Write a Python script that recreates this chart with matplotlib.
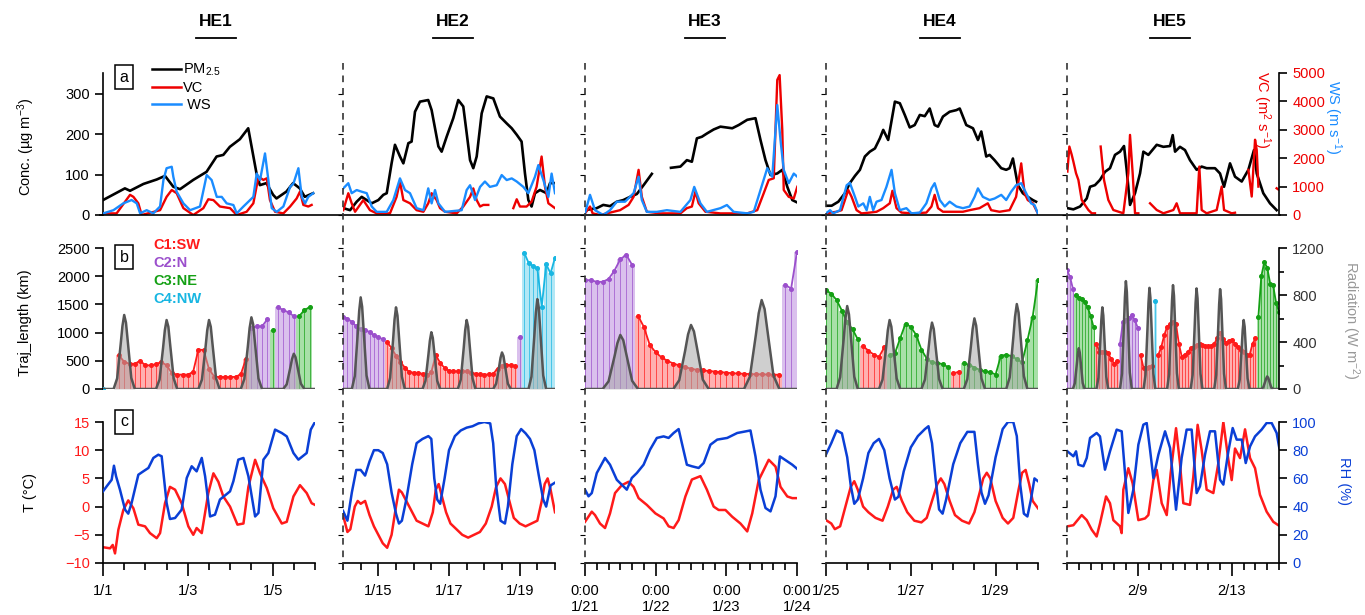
import numpy as np
import matplotlib
matplotlib.use("Agg")
import matplotlib.pyplot as plt
from matplotlib.lines import Line2D
from matplotlib.ticker import MultipleLocator

plt.rcParams["font.family"] = ["Liberation Sans", "DejaVu Sans"]
plt.rcParams["mathtext.fontset"] = "custom"
plt.rcParams["mathtext.rm"] = "Liberation Sans"
plt.rcParams["mathtext.it"] = "Liberation Sans:italic"

N = np.nan

# ---------------- data: (hour since panel start, value) ----------------
EPISODES = ["HE1", "HE2", "HE3", "HE4", "HE5"]
SPAN_H = [120, 144, 72, 120, 216]

# row a: PM2.5 (ug m-3), VC (m2 s-1), WS (m s-1)
HE1_PM = [(0, 37), (12.4, 66), (15.3, 60), (22.9, 77), (30.4, 88), (35.1, 97), (39.8, 70), (43.6, 64),
          (51.1, 87), (58.6, 107), (64.3, 145), (68.1, 149), (71.8, 169), (77.5, 188), (82.2, 215),
          (86.9, 103), (88.8, 74), (92.5, 79), (96.3, 50), (98.2, 41), (103.8, 58), (107.6, 79),
          (111.4, 66), (114.2, 45), (118.9, 54)]
HE1_VC = [(0.2, 57), (7.7, 57), (15.3, 710), (17.2, 640), (20, 412), (21.9, 0), (32.3, 170), (36, 640),
          (38.9, 880), (41.7, 767), (45.5, 241), (51.1, 0), (56.8, 241), (59.6, 554), (62.5, 525),
          (66.2, 298), (71.9, 241), (75.7, 0), (81.3, 114), (85.1, 412), (88, 1349), (90.8, 1235),
          (92.7, 1292), (94.5, 525), (97.4, 114), (102.1, 57), (105.9, 298), (109.6, 582), (111.5, 824),
          (113.4, 355), (116.2, 298), (118.1, 355)]
HE1_WS = [(0.2, 0.09), (5.9, 0.26), (11.5, 0.63), (16.2, 0.81), (19.1, 0.63), (21, 0.09), (24.7, 0.26),
          (28.5, 0.09), (32.3, 0.46), (34.2, 1.89), (36, 2.53), (38.9, 2.61), (39.8, 2.07), (41.7, 1.26),
          (45.5, 0.63), (49.3, 0.26), (54.9, 0.46), (58.7, 2.16), (61.5, 1.89), (64.4, 0.98), (67.2, 0.98),
          (70, 0.63), (73.8, 0.54), (75.7, 0.09), (79.5, 0.46), (85.1, 0.98), (87, 2.24), (88.9, 1.89),
          (91.7, 3.33), (93.6, 1.89), (95.5, 0.37), (98.3, 0.17), (102.1, 0.46), (105.9, 1.52),
          (107.8, 1.7), (110.6, 2.53), (112.5, 0.98), (114.4, 0.63), (116.2, 0.98), (119, 1.18)]

HE2_PM = [(0.2, 17), (4.8, 12), (9.3, 33), (12.7, 45), (16.1, 37), (19.5, 29), (24, 37), (27.4, 50),
          (29.7, 54), (33, 128), (35.3, 174), (38.7, 145), (41, 128), (44.4, 178), (46.6, 182), (48.9, 256),
          (52.3, 281), (57.9, 285), (60.2, 260), (64.8, 170), (67, 157), (70.4, 194), (74.9, 240),
          (78.3, 285), (81.7, 269), (84, 203), (86.3, 136), (88.5, 116), (90.8, 145), (94.2, 252),
          (97.6, 294), (102.1, 289), (106.6, 244), (111.2, 227), (114.6, 215), (118, 199), (121.3, 182),
          (123.6, 103), (125.9, 37), (128.1, 21), (130.4, 54), (133.8, 62), (138.3, 54), (140.6, 79),
          (144, 79)]
HE2_VC = [(0.2, 170), (3.6, 767), (5.9, 412), (8.2, 114), (13.8, 525), (18.3, 170), (22.9, 57), (31.9, 57),
          (36.4, 639), (38.7, 1179), (41, 525), (45.5, 412), (50, 170), (54.6, 114), (57.9, 412),
          (60.2, 767), (63.6, 525), (65.9, 241), (69.3, 114), (77.2, 57), (81.7, 298), (86.3, 639),
          (88.5, 937), (90.8, 525), (93.1, 298), (95.3, 355), (98.7, 355), (99.8, N), (115.7, 241),
          (118, 554), (120.2, 298), (124.7, 298), (128.1, 469), (131.5, 994), (134.9, 2059), (137.2, 994),
          (139.5, 412), (144, 241)]
HE2_WS = [(0.2, 1.44), (3.6, 1.72), (5.9, 1.18), (9.3, 1.35), (12.7, 1.26), (16.1, 1.18), (19.5, 0.46),
          (22.9, 0.17), (29.7, 0.17), (34.2, 0.81), (38.7, 1.98), (42.1, 1.35), (45.5, 1.18), (50, 0.37),
          (54.6, 0.26), (57.9, 1.44), (60.2, 0.63), (62.5, 1.35), (64.8, 0.63), (69.3, 0.17), (80.6, 0.26),
          (84, 1.35), (86.3, 1.61), (89.7, 0.81), (93.1, 1.52), (96.4, 1.81), (99.8, 1.52), (104.4, 1.61),
          (107.8, 2.16), (111.2, 1.89), (114.6, 1.98), (118, 1.81), (122.5, 1.52), (125.9, 1.18),
          (130.4, 2.07), (132.7, 2.7), (136.1, 1.89), (139.5, 0.98), (141.7, 2.24), (144, 1.18)]

HE3_PM = [(0, 12), (4, 17), (6.2, 25), (8.5, 22), (10.8, 33), (13, 37), (15.3, 45), (17.6, 52), (19.9, 74),
          (22.7, 102), (25, N), (29.2, 117), (32.4, 120), (34.6, 136), (36.3, 132), (38, 190), (39.7, 194),
          (41.4, 202), (43.7, 212), (46, 219), (50, 215), (52.2, 223), (55.1, 236), (57.9, 240),
          (59.6, 186), (61.3, 136), (63, 99), (65.3, 103), (67, 112), (68.7, 70), (70.4, 37), (72.1, 31)]
HE3_VC = [(0, 57), (1.7, 298), (2.6, 57), (5.1, 0), (7.4, 57), (9.7, 114), (11.9, 170), (14.8, 355),
          (16.5, 639), (18.2, 1590), (19.3, 639), (21, 114), (25.5, 57), (32.4, 57), (34.6, 241),
          (36.3, 298), (37.5, 824), (38.6, 412), (40.9, 114), (46, 57), (55.1, 57), (58.5, 170),
          (60.7, 767), (62.4, 1235), (64.1, 1292), (65.3, 4757), (66.1, 4927), (67, 2996), (67.5, 880),
          (69.2, 639), (70.9, 582), (72.1, 994)]
HE3_WS = [(0, 0.09), (1.7, 1.09), (3.4, 0.26), (6.2, 0), (8.5, 0.26), (10.8, 0.72), (13.6, 0.72),
          (16.5, 1.18), (18.2, 2.07), (19.3, 0.81), (21, 0.17), (24.4, 0.17), (27.8, 0.26), (32.4, 0.17),
          (35.8, 0.81), (37.1, 1.52), (39.2, 0.63), (41.4, 0.17), (46, 0.37), (48.2, 0.54), (50.5, 0.17),
          (55.1, 0.09), (57.3, 0.17), (59.6, 1.35), (61.9, 2.53), (63.6, 2.07), (65.3, 5.95), (66.4, 4.05),
          (67.5, 2.44), (69.2, 1.72), (70.9, 2.24), (72.1, 2.07)]

HE4_PM = [(0, 23), (3.2, 23), (7, 33), (10.7, 54), (13.5, 79), (16.4, 97), (19.2, 112), (22, 145),
          (24.8, 157), (27.7, 165), (30.5, 190), (32.4, 211), (35.2, 186), (39, 281), (41.8, 277),
          (44.6, 248), (47.4, 217), (50.2, 223), (53.1, 248), (55.9, 245), (58.7, 264), (61.5, 223),
          (63.4, 219), (66.2, 244), (70, 256), (73.8, 260), (75.7, 264), (79.4, 223), (83.2, 215),
          (86, 186), (87.9, 207), (90.7, 145), (92.6, 149), (95.4, 136), (99.2, 116), (102, 112),
          (103.9, 116), (105.8, 140), (108.6, 74), (111.4, 54), (114.2, 45), (117.1, 37), (118.9, 33)]
HE4_VC = [(0, 57), (6, 114), (8.8, 170), (12.6, 880), (14.5, 639), (17.3, 170), (20.1, 57), (24.8, 85),
          (28.6, 114), (32.4, 241), (36.1, 412), (37.6, 852), (39.9, 241), (42.7, 85), (49.3, 57),
          (56.8, 85), (59.7, 298), (61.5, 710), (63.4, 241), (66.2, 114), (77.5, 114), (81.3, 170),
          (86.9, 241), (91.6, 412), (93.5, 170), (98.2, 114), (103.9, 170), (107.6, 639), (110.5, 1818),
          (112.4, 767), (114.2, 525), (117.1, 412), (119.9, 57)]
HE4_WS = [(0, 0.09), (2.3, 0.26), (4.1, 0.09), (7.9, 0.26), (11.7, 1.61), (13.5, 1.74), (16.4, 0.98),
          (18.3, 0.46), (21.1, 0.63), (23, 0.26), (24.8, 0.98), (26.7, 0.26), (28.6, 0.72), (31.4, 0.81),
          (34.2, 1.52), (37.1, 2.44), (39, 1.18), (41.8, 0.26), (45.5, 0.37), (48.4, 0.09), (53.1, 0.13),
          (56.8, 0.63), (59.7, 1.44), (61.5, 1.72), (64.4, 0.81), (67.2, 0.46), (70, 0.72), (73.8, 0.46),
          (77.5, 0.37), (81.3, 0.46), (84.1, 0.98), (86, 1.44), (88.8, 0.98), (92.6, 0.81), (95.4, 0.89),
          (99.2, 1.09), (102, 0.81), (104.8, 1.26), (107.6, 1.61), (110.5, 1.72), (113.3, 1.18),
          (116.1, 0.63), (118, 0.54), (119.9, 0.09)]

HE5_PM = [(0.4, 17), (6.5, 14), (13.3, 21), (20.1, 41), (23.5, 70), (28.5, 74), (33.6, 87), (38.7, 107),
          (43.8, 116), (48.9, 149), (54, 157), (58.1, 171), (60.8, 112), (64.2, 25), (69.3, 54),
          (74.4, 103), (77.8, 157), (82.9, 149), (91.4, 174), (98.2, 169), (105, 171), (107.7, 198),
          (110.1, 157), (115.1, 169), (120.2, 161), (125.3, 136), (132.1, 112), (137.2, 120), (142.3, 116),
          (150.8, 116), (155.9, 103), (160, 70), (166.1, 128), (171.2, 95), (178, 83), (184.8, 112),
          (190.5, 161), (193.3, 103), (200, 54), (206.8, 29), (213.6, 12)]
HE5_VC = [(0.4, 1530), (2.4, 2410), (4.8, 2120), (6.5, 1880), (9.2, 1470), (11.6, 1235), (15, 530),
          (18.4, 350), (21.8, 176), (25.2, 60), (28.5, 60), (31, N), (34.3, 2410), (37.7, 1235), (42.1, 530),
          (47.2, 176), (52.3, 118), (57.4, 60), (62.5, 1470), (64.2, 2820), (66.9, 1470), (69.3, 60),
          (72.7, 60), (78, N), (84.6, 412), (91.4, 176), (98.2, 60), (108.4, 176), (111.7, 412), (115.1, 60),
          (125.3, 60), (132.1, 60), (134.8, 1705), (137.2, 176), (142.3, 60), (152.5, 176), (157.6, 1000),
          (160, 176), (167.8, 60), (171.2, 80), (178, N), (184.8, 1590), (188.2, 650), (191.6, 2650),
          (193.3, 2290), (195, 1000), (204, N), (213.6, 940), (215.3, 900)]
HE5_WS = []

# row b: trajectory length (km) on a regular time step, cluster id per step (0 = none)
TRAJ_STEP = [3, 3, 2, 3, 3]
HE1_TRAJ = [0, N, N, 600, 480, 447, 447, 500, 420, 420, 440, 480, 420, 280, 255, 255, 255, 300, 700, 690,
            350, 220, 212, 212, 212, 215, 260, 540, 1080, 1110, 1110, 1235, 1040, 1450, 1400, 1360, 1290,
            1290, 1400, 1450]
HE1_CLUST = "400" "11111" "11111" "11111" "11111" "11111" "2222" "3" "2222" "333"
HE2_TRAJ = [1282, 1250, 1190, 1110, 1060, 1047, 1010, 955, 915, 885,
            830, 723, 590, 480, 380, 300, 290, 285, 270, 240, 300, 600, 465, 370, 325, 315, 312, 312, 312,
            290, 272, 262, 255, 258, 270, 360, 410, 430, 420, 405,
            917, 2420, 2240, 2180, 2140, 1460, 2210, 2050, 2330]
HE2_CLUST = "2222222222" "1111111111" "1111111111" "1111111111" "2" "44444444"
HE3_TRAJ = [1930, 1930, 1900, 1900, 1950, 2100, 2300, 2380, 2200,
            1300, 1100, 780, 650, 560, 500, 450, 420, 390, 360, 340, 330, 320, 310, 300, 290, 280, 275,
            270, 265, 262, 260, 258, 255, 252, 1850, 1780, 2430]
HE3_CLUST = "222222222" "11111" "11111" "11111" "11111" "11111" "222"
HE4_TRAJ = [1752, 1690, 1576, 1390, 1180, 1060, 880, 760, 680, 610, 570, 740,
            600, 630, 900, 1160, 1100, 960, 700, 540, 470, 465, 440, 390, 275, 305,
            455, 430, 380, 340, 312, 300, 255, 590, 606, 585, 530, 470, 860, 1280, 1940]
HE4_CLUST = "3333333" "11111" "333333333333" "11" "333333333333333"
HE5_TRAJ = [2105, 1990, 1780, 1670, 1620, 1590, 1550, 1450, 1300, 1100,
            800, 664, 664, 650, 635, 530, 450, 500, 800, 1194, 1230, 1255, 1311, 1223, 1090,
            600, 370, 370, 390, 400, 1560,
            605, 740, 950, 1105, 1150, 1180, 1160, 800, 570, 610, 650, 720, 753, 780, 800, 780, 755, 760,
            764, 800, 900, 988, 880, 820, 850, 870, 800, 740, 700, 660, 600, 600, 800, 900,
            1282, 2000, 2250, 2150, 1870, 1840, 1530, 1370]
HE5_CLUST = "222" "3333333" "11111111" "2222222" "11111" "4" "1111111111" "1111111111" "1111111111" "1111" "33333333"

# row b: radiation (W m-2), one list per day at these hours
RAD_HOURS = [6, 8, 10, 11, 12, 13, 14, 16, 18]
HE1_RAD = [[0, 90, 380, 535, 630, 565, 410, 95, 0], [0, 80, 350, 500, 587, 530, 380, 90, 0],
           [0, 80, 350, 500, 587, 530, 380, 90, 0], [0, 85, 365, 520, 610, 550, 395, 90, 0],
           [0, 40, 180, 255, 300, 270, 195, 45, 0]]
HE2_RAD = [[0, 110, 470, 665, 780, 700, 505, 115, 0], [0, 95, 415, 590, 695, 625, 450, 105, 0],
           [0, 70, 290, 410, 483, 435, 315, 70, 0], [0, 80, 350, 500, 587, 530, 380, 90, 0],
           [0, 45, 185, 265, 311, 280, 200, 45, 0], [0, 105, 460, 650, 765, 690, 495, 115, 0]]
HE3_RAD = [[0, 65, 275, 390, 460, 415, 300, 70, 0], [0, 75, 325, 465, 545, 490, 355, 80, 0],
           [0, 105, 455, 645, 757, 680, 490, 115, 0]]
HE4_RAD = [[0, 100, 425, 600, 706, 635, 460, 105, 0], [0, 80, 350, 500, 587, 530, 380, 90, 0],
           [0, 80, 340, 480, 565, 510, 365, 85, 0], [0, 85, 360, 510, 601, 540, 390, 90, 0],
           [0, 100, 435, 615, 723, 650, 470, 110, 0]]
HE5_RAD = [[0, 50, 210, 295, 347, 310, 225, 50, 0], [0, 95, 415, 590, 695, 625, 450, 105, 0],
           [0, 130, 550, 780, 918, 825, 595, 140, 0], [0, 120, 515, 730, 861, 775, 560, 130, 0],
           [0, 125, 530, 750, 884, 795, 575, 135, 0], [0, 120, 515, 730, 856, 770, 555, 130, 0],
           [0, 120, 510, 720, 850, 765, 550, 130, 0], [0, 80, 350, 500, 587, 530, 380, 90, 0],
           [0, 15, 65, 90, 107, 95, 70, 15, 0]]

# row c: temperature (degC) and RH (%)
HE1_T = [(0, -7.2), (4, -7.4), (5.5, -6.8), (6.8, -8.3), (8.7, -4.1), (11.5, -0.6), (14.3, 1.1), (17.2, -0.3),
         (20, -3.2), (23.8, -3.5), (26.6, -4.7), (30.4, -5.6), (32.3, -4.7), (35.1, 0.6), (37.9, 3.5),
         (40.8, 3), (44.5, 0.6), (48.3, -3.5), (51.1, -5), (53, -3.8), (55.9, -4.7), (59.6, 2.4), (62.5, 5.9),
         (65.3, 4.4), (68.1, 1.8), (71.9, 0), (76.1, -3.2), (79.5, -3), (82.3, 3.5), (86.1, 8.3), (88.9, 5.9),
         (92.7, 3.3), (96.4, -0.3), (101.2, -3), (104, -2.7), (107.8, 1.8), (111.5, 3.8), (115.3, 2.4),
         (118.1, 0.6), (120, 0.3)]
HE1_RH = [(0, 50.8), (2.1, 54.4), (4.9, 59), (6.2, 69), (7.4, 61.5), (9.6, 52), (12.5, 37.8), (14.3, 35),
          (16.2, 42.6), (20, 62.6), (22.8, 65), (25.7, 67.4), (28.5, 74.5), (31.3, 76.8), (33.2, 75.7),
          (36, 42.6), (37.9, 31.2), (40.8, 31.9), (44.5, 37.8), (47.4, 60.3), (50.2, 68.6), (53, 65),
          (55.9, 74.5), (57.8, 61.5), (60.6, 33), (63.4, 34.3), (66.2, 45), (71.9, 50.8), (73.8, 58),
          (76.6, 73.3), (79.5, 74.5), (82.3, 61.5), (86.1, 33), (88, 35.5), (90.8, 73.3), (93.6, 78),
          (97.4, 94.6), (101.2, 92.2), (104, 89.8), (107.8, 78), (110.6, 73.3), (115.3, 78), (117.6, 94.6),
          (120, 100)]
HE2_T = [(0, -1.5), (3, -4.5), (5, -4), (8, 0), (10, 1), (12, 0.5), (15, 1), (18, -1.5), (21, -3.5), (24, -5),
         (27, -6.5), (30, -7.3), (33, -5), (36, 0), (38, 3), (40, 2.5), (43, 1), (47, -1), (50, -2.5), (54, -3),
         (58, -3.5), (61, -1), (63, 3), (65, 4), (67, 2), (70, -1), (73, -3), (77, -4), (81, -5), (85, -5.5),
         (89, -5), (93, -4.5), (97, -3), (101, 0), (104, 3.5), (107, 5), (110, 4), (113, 1), (116, -2),
         (120, -3), (124, -3.5), (128, -3), (132, -2.5), (135, 1), (137, 4), (139, 5), (141, 3), (144, -1)]
HE2_RH = [(0, 37), (3, 30), (6, 50), (9, 66), (12, 66), (15, 62), (18, 72), (21, 80), (24, 80), (27, 78),
          (30, 70), (33, 50), (36, 35), (38, 28), (40, 30), (43, 45), (47, 70), (50, 85), (54, 88), (58, 90),
          (60, 88), (62, 60), (64, 45), (66, 42), (69, 60), (72, 80), (76, 90), (80, 94), (84, 96), (88, 97),
          (92, 99), (96, 100), (100, 99), (102, 85), (104, 55), (107, 30), (110, 28), (112, 40), (115, 70),
          (118, 90), (121, 95), (124, 92), (127, 88), (130, 80), (133, 62), (136, 45), (138, 40), (141, 55),
          (144, 57)]
HE3_T = [(0, -2.7), (2.3, -0.9), (3.4, -1.5), (5.1, -3), (6.8, -3.8), (8.5, -1.2), (10.2, 2.4), (12.5, 3.8),
         (14.8, 4.4), (16.5, 3.5), (18.2, 1.5), (21, 0.3), (23.9, -1.2), (26.7, -2.1), (28.4, -3.5),
         (30.1, -3.8), (31.8, -2.4), (34.1, 1.8), (36.3, 4.8), (39.2, 5.4), (41.4, 3), (43.7, 0), (45.4, -0.6),
         (47.7, -0.6), (50, -1.8), (52.8, -3), (55.1, -4.4), (56.8, -1.2), (59, 4.7), (62.4, 8.3), (64.7, 7.1),
         (66.4, 3.5), (68.7, 1.8), (70.4, 1.5), (72.1, 1.5)]
HE3_RH = [(0, 52), (1.2, 47.3), (2.3, 49.6), (4, 63.8), (6.8, 74.5), (8.5, 69.7), (10.8, 59), (12.5, 55.5),
          (14.2, 52), (15.9, 60.3), (17.6, 63.8), (19.9, 69.7), (22.1, 80.4), (24.4, 88.7), (26.7, 89.8),
          (28.4, 88.7), (30.1, 92.2), (31.8, 95), (32.9, 85), (34.6, 69.7), (36.3, 68.6), (38.6, 67.4),
          (40.3, 70.9), (42.6, 83.9), (44.9, 87.5), (48.3, 88.7), (51.7, 92.2), (56.2, 94), (57.9, 75.6),
          (59.6, 52), (61.3, 39), (63, 36.6), (64.7, 47.3), (66.2, 75.6), (68.7, 72.1), (70.4, 69.7),
          (72.1, 66.7)]
HE4_T = [(0, -2.4), (3, -3), (5, -4), (8, -3.5), (11, 0), (14, 3.5), (16, 4.5), (18, 3), (21, 0), (24, -1),
         (28, -2), (32, -2.5), (35, 0), (38, 3), (40, 3.5), (43, 1), (46, -1), (50, -2.5), (54, -2.8), (57, -2),
         (60, 1), (63, 4), (65, 5), (67, 4), (70, 1), (73, -1.5), (77, -2.5), (81, -3), (84, -1), (87, 2.5),
         (89, 5), (91, 6), (93, 5), (96, 1), (100, -2), (103, -3), (106, -2), (109, 3), (111, 6), (113, 6.5),
         (115, 4), (117, 1), (120, -0.3)]
HE4_RH = [(0, 77), (3, 85), (6, 94), (9, 92), (12, 75), (14, 55), (16, 42), (18, 45), (21, 60), (24, 78),
          (27, 85), (30, 88), (33, 80), (36, 60), (39, 45), (41, 47), (44, 65), (48, 82), (52, 90), (56, 95),
          (58, 97), (60, 85), (62, 60), (64, 38), (66, 35), (68, 45), (72, 70), (76, 85), (80, 93), (84, 93),
          (86, 70), (88, 50), (90, 42), (92, 48), (96, 75), (100, 95), (103, 100), (106, 100), (108, 90),
          (110, 55), (112, 35), (114, 33), (116, 45), (118, 60), (120, 58)]
HE5_T = [(0.4, -3.5), (6.5, -3.3), (15, -1.5), (20.1, -2.4), (25.2, -4.1), (30.2, -5.3), (33.6, -3),
         (39.8, 1.8), (43.8, 0.6), (47.2, -2.4), (54, -3.5), (55.7, -4.7), (57.4, 3), (62.5, 6.8), (66.9, 4.1),
         (72.7, -2.4), (79.5, -2.1), (82.9, -1.5), (88, 4.7), (91.4, 6.5), (96.5, 0.6), (101.6, -1.5),
         (105.6, 5.9), (111.1, 13.9), (115.1, 7.7), (118.5, 0.6), (125.3, 0.3), (128.7, 5.3), (133.1, 14.5),
         (137.2, 10), (142.3, 3), (149.1, 2.4), (154.2, 7.7), (159.3, 15), (164.4, 8.3), (167.8, 4.7),
         (171.2, 10.3), (176.3, 8.6), (181.4, 13.7), (186.5, 8.6), (191.6, 6.8), (196.6, 2.1), (203.4, -0.9),
         (210.2, -2.7), (215.3, -3.3)]
HE5_RH = [(0.4, 79.2), (6.5, 75.7), (9.2, 79.2), (11.6, 69.7), (16.7, 68.6), (20.1, 74.5), (23.5, 88.7),
          (30.2, 92.2), (33.6, 89.8), (38.7, 66.2), (43.8, 79.2), (50.6, 94.6), (55.7, 93.4), (59.1, 63.8),
          (62.5, 35.5), (67.6, 52), (72.7, 83.9), (77.8, 98.1), (81.2, 99.3), (84.6, 80.4), (88, 60.3),
          (93.1, 76.8), (99.9, 93.4), (105, 81.6), (111.1, 37.8), (116.8, 74.5), (121.9, 94.6), (127, 94.6),
          (132.1, 49.6), (135.5, 54.4), (140.6, 76.8), (145.7, 93.4), (150.8, 93.4), (155.9, 59.1),
          (159.3, 55.6), (164.4, 79.2), (168.8, 95.7), (172.9, 87.5), (178, 87.5), (182.1, 70.9),
          (186.5, 82.7), (191.6, 89.8), (198.3, 94.6), (203.4, 99.3), (208.5, 99.3), (213.6, 92.2),
          (216.3, 81.6)]

# bottom axis ticks (hours) and labels
XT_MAJOR = [[0, 48, 96], [24, 72, 120], [0, 24, 48, 72], [0, 48, 96], [72, 168]]
XT_LABELS = [["1/1", "1/3", "1/5"], ["1/15", "1/17", "1/19"],
             ["0:00\n1/21", "0:00\n1/22", "0:00\n1/23", "0:00\n1/24"],
             ["1/25", "1/27", "1/29"], ["2/9", "2/13"]]
XT_MINOR = [12, 12, 4, 12, 12]

CLUSTERS = [("1", "#ff1a1a", "#ff8f8f"), ("2", "#9b4fcc", "#cba6e6"),
            ("3", "#14a014", "#84d484"), ("4", "#18b6e2", "#92ddf2")]

PM = [HE1_PM, HE2_PM, HE3_PM, HE4_PM, HE5_PM]
VC = [HE1_VC, HE2_VC, HE3_VC, HE4_VC, HE5_VC]
WS = [HE1_WS, HE2_WS, HE3_WS, HE4_WS, HE5_WS]
TRAJ = [HE1_TRAJ, HE2_TRAJ, HE3_TRAJ, HE4_TRAJ, HE5_TRAJ]
CLUST = [HE1_CLUST, HE2_CLUST, HE3_CLUST, HE4_CLUST, HE5_CLUST]
RAD = [HE1_RAD, HE2_RAD, HE3_RAD, HE4_RAD, HE5_RAD]
TEMP = [HE1_T, HE2_T, HE3_T, HE4_T, HE5_T]
RH = [HE1_RH, HE2_RH, HE3_RH, HE4_RH, HE5_RH]

# ---------------- layout (pixels) ----------------
W, H = 1365, 615
COLS = [(103, 315), (343, 555), (585, 797), (826, 1038), (1067, 1279)]
ROWS = [(73, 215), (248, 389), (422, 563)]
HEADER_X = [216, 453, 705, 940, 1170]
FS = 10.5
C_VC, C_WS, C_T, C_RH = "#ee0000", "#1a8cff", "#ff1a1a", "#0a3fd6"


def rect(col, row):
    x0, x1 = COLS[col]
    y0, y1 = ROWS[row]
    return [x0 / W, 1 - y1 / H, (x1 - x0) / W, (y1 - y0) / H]


def pairs(p):
    a = np.asarray(p, dtype=float).reshape(-1, 2)
    return a[:, 0], a[:, 1]


def bare(ax):
    for s in ax.spines.values():
        s.set_visible(False)
        s.set_linewidth(1.2)
    ax.tick_params(left=False, right=False, bottom=False, top=False,
                   labelleft=False, labelright=False, labelbottom=False)


def yspine(ax, side, color, ticks, minor=None):
    ax.spines[side].set_visible(True)
    kw = {side: True, "label" + side: True}
    ax.tick_params(axis="y", which="both", direction="out", width=1.2, labelsize=FS,
                   labelcolor=color, **kw)
    ax.tick_params(axis="y", which="major", length=6)
    ax.tick_params(axis="y", which="minor", length=3.5)
    ax.set_yticks(ticks)
    if minor:
        ax.yaxis.set_minor_locator(MultipleLocator(minor))


fig = plt.figure(figsize=(W / 100, H / 100), dpi=100)

for i in range(5):
    span = SPAN_H[i]

    # ---- row a ----
    ax = fig.add_axes(rect(i, 0))
    bare(ax)
    ax.set_xlim(0, span)
    ax.set_ylim(0, 352)
    ax.plot(*pairs(PM[i]), color="k", lw=1.9)
    axv = ax.twinx()
    bare(axv)
    axv.set_ylim(0, 5000)
    axv.plot(*pairs(VC[i]), color=C_VC, lw=1.7)
    axw = ax.twinx()
    bare(axw)
    axw.set_ylim(0, 7.68)
    if WS[i]:
        axw.plot(*pairs(WS[i]), color=C_WS, lw=1.7)
    if i == 0:
        yspine(ax, "left", "k", [0, 100, 200, 300])
    if i == 4:
        yspine(axv, "right", C_VC, [0, 1000, 2000, 3000, 4000, 5000])
        axw.spines["right"].set_visible(True)
        axw.spines["right"].set_position(("outward", 74))
        axw.tick_params(axis="y", right=True, labelright=False, direction="in", length=5, width=1.2)
        axw.set_yticks([2, 4, 6])

    # ---- row b ----
    ax = fig.add_axes(rect(i, 1))
    bare(ax)
    ax.set_xlim(0, span)
    ax.set_ylim(0, 2500)
    step = TRAJ_STEP[i]
    vals = np.asarray(TRAJ[i], dtype=float)
    t = np.arange(len(vals)) * step
    cl = np.array(list(CLUST[i]))
    for code, col, light in CLUSTERS:
        m = cl == code
        if not m.any():
            continue
        ax.bar(t[m], vals[m], width=step, color=light, alpha=0.7, lw=0, zorder=1)
        ax.vlines(t[m], 0, vals[m], color=col, lw=0.7, alpha=0.7, zorder=2)
        ax.plot(t, np.where(m, vals, np.nan), color=col, lw=1.3, zorder=3)
        ax.plot(t[m], vals[m], "o", ms=2.6, color=col, zorder=3)
    axr = ax.twinx()
    bare(axr)
    axr.set_ylim(0, 1200)
    rt = np.concatenate([[0]] + [d * 24 + np.asarray(RAD_HOURS) for d in range(len(RAD[i]))] + [[span]])
    rv = np.concatenate([[0]] + [np.asarray(v, float) for v in RAD[i]] + [[0]])
    axr.fill_between(rt, 0, rv, color="#a8a8a8", alpha=0.55, lw=0)
    axr.plot(rt, rv, color="#555555", lw=1.8)
    if i == 0:
        yspine(ax, "left", "k", [0, 500, 1000, 1500, 2000, 2500])
    if i == 4:
        yspine(axr, "right", "#333333", [0, 400, 800, 1200], minor=200)

    # ---- row c ----
    ax = fig.add_axes(rect(i, 2))
    bare(ax)
    ax.set_xlim(0, span)
    ax.set_ylim(-10, 15)
    ax.plot(*pairs(TEMP[i]), color=C_T, lw=1.8)
    axh = ax.twinx()
    bare(axh)
    axh.set_ylim(0, 100)
    axh.plot(*pairs(RH[i]), color=C_RH, lw=1.8)
    ax.spines["bottom"].set_visible(True)
    ax.set_xticks(XT_MAJOR[i])
    ax.set_xticklabels(XT_LABELS[i])
    ax.xaxis.set_minor_locator(MultipleLocator(XT_MINOR[i]))
    ax.tick_params(axis="x", which="both", bottom=True, labelbottom=True, direction="out",
                   width=1.2, labelsize=FS, pad=6)
    ax.tick_params(axis="x", which="major", length=9)
    ax.tick_params(axis="x", which="minor", length=5)
    if i == 0:
        yspine(ax, "left", C_T, [-10, -5, 0, 5, 10, 15])
    if i == 4:
        yspine(axh, "right", C_RH, [0, 20, 40, 60, 80, 100])

    # header
    hx = HEADER_X[i]
    fig.text(hx / W, 1 - 22 / H, EPISODES[i], ha="center", va="center", fontsize=12.5, fontweight="bold")
    fig.add_artist(Line2D([(hx - 20) / W, (hx + 20) / W], [1 - 38 / H] * 2, color="k", lw=1.3))

# continuous zero line of row a
fig.add_artist(Line2D([100 / W, 1280 / W], [1 - 215 / H] * 2, color="k", lw=1.2))

# episode separators
for x in [343, 585, 826, 1067]:
    fig.add_artist(Line2D([x / W, x / W], [1 - 63 / H, 1 - 572 / H], color="#333333", lw=1.2,
                          ls=(0, (4, 3.5))))

# legend of row a
handles = [Line2D([], [], color="k", lw=1.8), Line2D([], [], color=C_VC, lw=1.8),
           Line2D([], [], color=C_WS, lw=1.8)]
fig.legend(handles, ["PM$_{2.5}$", "VC", " WS"], loc="upper left", bbox_to_anchor=(152 / W, 1 - 62 / H),
           frameon=False, handlelength=2.0, handletextpad=0.15, labelspacing=0.18, fontsize=FS,
           borderaxespad=0, borderpad=0)

# panel letters
for letter, y in [("a", 77), ("b", 257), ("c", 422)]:
    fig.text(124 / W, 1 - y / H, letter, ha="center", va="center", fontsize=11.5,
             bbox=dict(boxstyle="square,pad=0.3", fc="white", ec="k", lw=1.1))

# cluster legend
for (code, col, light), name, y in zip(CLUSTERS, ["C1:SW", "C2:N", "C3:NE", "C4:NW"], [245, 263, 281, 299]):
    fig.text(153 / W, 1 - y / H, name, ha="left", va="center", fontsize=FS, fontweight="bold", color=col)

# axis titles
fig.text(26 / W, 1 - 147 / H, "Conc. (\u00b5g m$^{-3}$)", rotation=90, ha="center", va="center", fontsize=FS)
fig.text(25 / W, 1 - 323 / H, "Traj_length (km)", rotation=90, ha="center", va="center", fontsize=FS)
fig.text(30 / W, 1 - 492 / H, "T (\u00b0C)", rotation=90, ha="center", va="center", fontsize=FS)
fig.text(1262 / W, 1 - 110 / H, "VC (m$^{2}$ s$^{-1}$)", rotation=270, ha="center", va="center",
         fontsize=FS, color=C_VC)
fig.text(1333 / W, 1 - 117 / H, "WS (m s$^{-1}$)", rotation=270, ha="center", va="center",
         fontsize=FS, color=C_WS)
fig.text(1351 / W, 1 - 320 / H, "Radiation (W m$^{-2}$)", rotation=270, ha="center", va="center",
         fontsize=FS, color="#999999")
fig.text(1344 / W, 1 - 481 / H, "RH (%)", rotation=270, ha="center", va="center", fontsize=FS, color=C_RH)

fig.savefig("out.png", dpi=100)
